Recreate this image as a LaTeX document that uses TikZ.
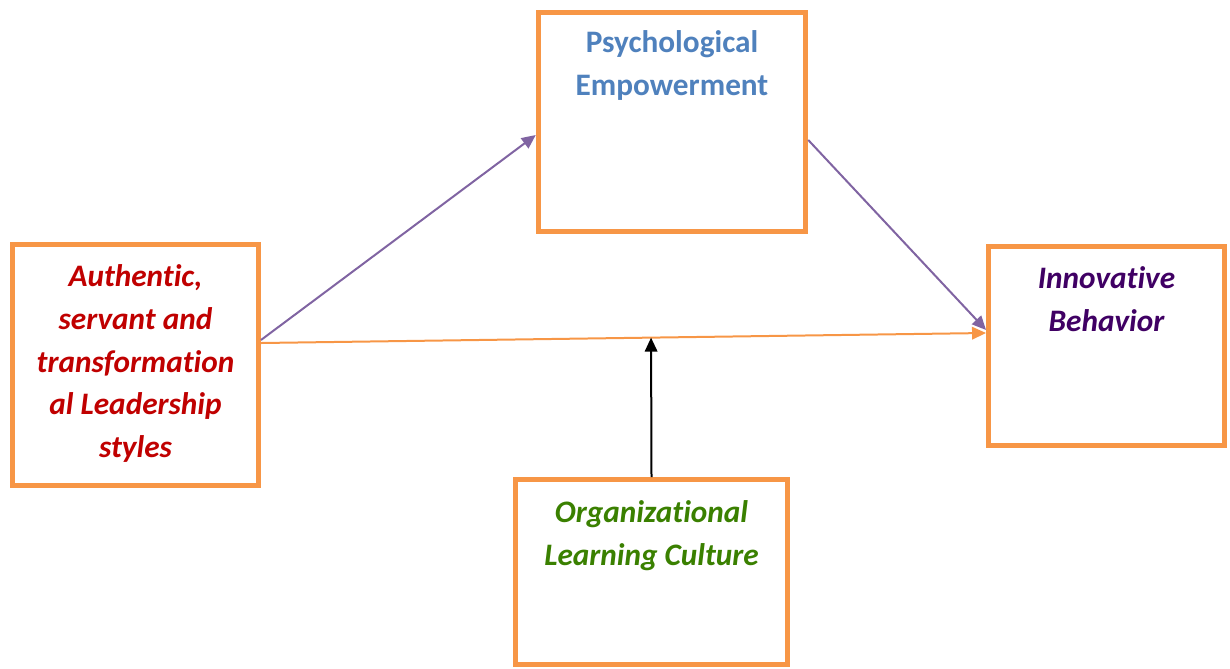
\documentclass[tikz,border=0pt]{standalone}
\usepackage{fontspec}
\setmainfont[Ligatures=NoCommon]{Carlito}
\usepackage{xcolor}
\usepackage{tikz}
\usetikzlibrary{positioning, calc, arrows.meta}
\definecolor{pmOrange}{RGB}{247, 150, 70}
\definecolor{pmPurple}{RGB}{128, 100, 162}
\definecolor{pmBlue}{RGB}{79, 129, 189}
\definecolor{pmRed}{RGB}{192, 0, 0}
\definecolor{pmViolet}{RGB}{64, 0, 100}
\definecolor{pmGreen}{RGB}{58, 128, 0}
\tikzset{
    base/.style={
        font=\bfseries\fontsize{17.8}{24.4}\selectfont,
        align=center
    },
    frame/.style={
        rectangle,
        draw=pmOrange,
        line width=0.1cm,
        fill=white
    },
    heading/.style={
        base,
        anchor=north,
        inner sep=0pt
    },
    link/.style={
        -{Triangle[length=0.28cm, width=0.25cm]},
        line width=0.04cm
    }
}

\begin{document}
\begin{tikzpicture}[x=0.02cm, y=-0.02cm]
  \useasboundingbox (0,0) rectangle (1230,669);

  % Boxes
  \node[frame, minimum width=5.35cm, minimum height=4.37cm] (pe) at (672,122) {};
  \node[frame, minimum width=4.92cm, minimum height=4.82cm] (lead) at (135.5,365) {};
  \node[frame, minimum width=4.72cm, minimum height=4.0cm] (inno) at (1106.5,346) {};
  \node[frame, minimum width=5.44cm, minimum height=3.7cm] (olc) at (651.5,572) {};

  % Titles
  \node[heading, text=pmBlue, below=0.4cm of pe.north] (pe-txt) {Psychological\\Empowerment};
  \node[heading, text=pmRed, font=\bfseries\itshape\fontsize{17.8}{24.4}\selectfont,
        below=0.44cm of lead.north] (lead-txt) {Authentic,\\servant and\\transformation\\al Leadership\\styles};
  \node[heading, text=pmViolet, font=\bfseries\itshape\fontsize{17.8}{24.4}\selectfont,
        below=0.45cm of inno.north] (inno-txt) {Innovative\\Behavior};
  \node[heading, text=pmGreen, font=\bfseries\itshape\fontsize{17.8}{24.4}\selectfont,
        below=0.46cm of olc.north] (olc-txt) {Organizational\\Learning Culture};

  % Paths
  \draw[link, pmPurple] ([yshift=0.5cm]lead.east) -- ([yshift=-0.26cm]pe.west);
  \draw[link, pmPurple] ([yshift=-0.36cm]pe.east) -- ([yshift=0.32cm]inno.west);
  \draw[link, pmOrange] ([yshift=0.44cm]lead.east) -- coordinate[pos=0.538] (mod) ([yshift=0.26cm]inno.west);
  \draw[link, black] (olc.north) -- (mod);
\end{tikzpicture}
\end{document}
